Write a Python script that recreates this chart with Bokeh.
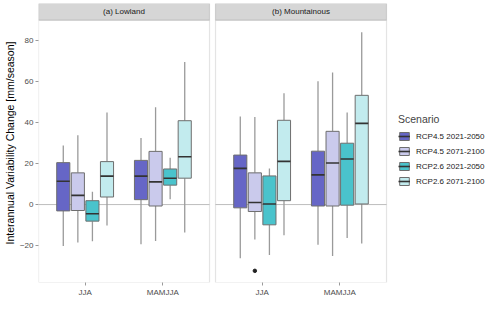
from bokeh.plotting import figure
from bokeh.models import Range1d, FixedTicker, BoxAnnotation, Legend, LegendItem, ColumnDataSource, Label
from bokeh.core.properties import value
from bokeh.embed import file_html
from bokeh.resources import INLINE

regions = ["(a) Lowland", "(b) Mountainous"]
seasons = ["JJA", "MAMJJA"]
scenarios = ["RCP4.5 2021-2050", "RCP4.5 2071-2100", "RCP2.6 2021-2050", "RCP2.6 2071-2100"]
colors = ["#6666C6", "#CACAEC", "#4AC3CC", "#C2EBEE"]

# order within each region: JJA x 4 scenarios, then MAMJJA x 4 scenarios
low_wlo = [-20.3, -18.6, -17.9, -10.2, -19.4, -17.8, 2.6, -13.7]
low_q1 = [-3.1, -2.9, -8.1, 3.7, 2.4, -0.7, 9.5, 12.9]
low_med = [11.4, 4.5, -4.5, 13.9, 13.9, 11.1, 12.9, 23.4]
low_q3 = [20.5, 15.5, 1.9, 21.0, 21.6, 26.0, 17.4, 41.0]
low_whi = [28.9, 33.9, 6.3, 45.0, 32.6, 47.6, 22.9, 69.7]

mtn_wlo = [-26.3, -17.1, -24.7, -15.0, -19.7, -25.2, -16.3, -19.0]
mtn_q1 = [-1.6, -3.4, -9.9, 1.9, -0.7, -0.7, -0.3, 0.3]
mtn_med = [17.7, 1.0, 0.3, 21.1, 14.5, 20.3, 22.3, 39.7]
mtn_q3 = [24.2, 15.5, 14.0, 41.2, 26.1, 35.8, 30.0, 53.4]
mtn_whi = [43.1, 42.8, 17.6, 54.4, 60.3, 64.6, 45.0, 84.3]

# outliers: (region index, season index, scenario index, value)
outliers = [(1, 0, 1, -32.4)]

y_ticks = [-20, 0, 20, 40, 60, 80]

FONT = "Liberation Sans"
Y_LO, Y_PANEL_TOP, Y_HI = -38.1, 90.2, 98.3
X_LO, X_HI = 0.4, 2.6

# layout in pixels
FRAME_W, FRAME_H = 454, 279
PANEL_PX, GAP_PX = 171, 6
UNIT = (X_HI - X_LO) / PANEL_PX
GAP = GAP_PX * UNIT
OFF = (X_HI - X_LO) + GAP
X_END = X_LO + FRAME_W * UNIT
DODGE = 0.1875
BOXW = 0.1875 * 0.9

p = figure(frame_width=FRAME_W, frame_height=FRAME_H,
           x_range=Range1d(X_LO, X_END), y_range=Range1d(Y_LO, Y_HI),
           output_backend="svg", toolbar_location=None,
           min_border_left=2, min_border_top=3, min_border_right=0, min_border_bottom=26)
p.outline_line_color = None
p.xgrid.visible = False
p.ygrid.visible = False
p.background_fill_color = "white"

# zero lines per panel
p.segment(x0=[X_LO, X_LO + OFF], x1=[X_HI, X_HI + OFF], y0=[0, 0], y1=[0, 0],
          line_color="#BDBDBD", line_width=1)

stats = [(low_wlo, low_q1, low_med, low_q3, low_whi), (mtn_wlo, mtn_q1, mtn_med, mtn_q3, mtn_whi)]

items = []
for j, scen in enumerate(scenarios):
    xs, wlo, q1, med, q3, whi = [], [], [], [], [], []
    for r, st in enumerate(stats):
        for s in range(len(seasons)):
            k = s * len(scenarios) + j
            xs.append(s + 1 + r * OFF + (j - 1.5) * DODGE)
            wlo.append(st[0][k]); q1.append(st[1][k]); med.append(st[2][k])
            q3.append(st[3][k]); whi.append(st[4][k])
    src = ColumnDataSource(dict(x=xs, wlo=wlo, q1=q1, med=med, q3=q3, whi=whi,
                                xl=[x - BOXW / 2 for x in xs], xr=[x + BOXW / 2 for x in xs]))
    p.segment(x0="x", x1="x", y0="wlo", y1="q1", source=src, line_color="#9A9A9A", line_width=1.3)
    p.segment(x0="x", x1="x", y0="q3", y1="whi", source=src, line_color="#9A9A9A", line_width=1.3)
    box = p.vbar(x="x", width=BOXW, bottom="q1", top="q3", source=src,
                 fill_color=colors[j], line_color="#6E6E6E", line_width=1)
    medr = p.segment(x0="xl", x1="xr", y0="med", y1="med", source=src,
                     line_color="#333333", line_width=1.6)
    items.append(LegendItem(label=scen, renderers=[box, medr]))

ox = [s + 1 + r * OFF + (j - 1.5) * DODGE for (r, s, j, v) in outliers]
oy = [v for (r, s, j, v) in outliers]
p.scatter(x=ox, y=oy, size=3.5, color="#222222")

# panel borders and strips
for r in range(len(regions)):
    p.add_layout(BoxAnnotation(left=X_LO + r * OFF, right=X_HI + r * OFF, bottom=Y_LO, top=Y_PANEL_TOP,
                               fill_color=None, line_color="#A6A6A6", line_width=1.2))
    p.add_layout(BoxAnnotation(left=X_LO + r * OFF, right=X_HI + r * OFF, bottom=Y_PANEL_TOP, top=Y_HI,
                               fill_color="#D6D6D6", fill_alpha=1, line_color="#8C8C8C", line_width=1.2))

p.text(x=[(X_LO + X_HI) / 2 + r * OFF for r in range(len(regions))],
       y=[(Y_PANEL_TOP + Y_HI) / 2] * len(regions), text=regions,
       text_align="center", text_baseline="middle", text_font=value(FONT),
       text_font_size="8px", text_color="#1A1A1A", level="overlay")

# axes
p.yaxis.ticker = FixedTicker(ticks=y_ticks)
p.yaxis.axis_label = "Interannual Variability Change [mm/season]"
p.xaxis.ticker = FixedTicker(ticks=[s + 1 + r * OFF for r in range(len(regions)) for s in range(len(seasons))])
p.xaxis.major_label_overrides = {s + 1 + r * OFF: seasons[s] for r in range(len(regions)) for s in range(len(seasons))}
for ax in (p.xaxis, p.yaxis):
    ax.axis_line_color = None
    ax.minor_tick_line_color = None
    ax.major_tick_line_color = "#9A9A9A"
    ax.major_tick_out = 3
    ax.major_tick_in = 0
    ax.major_label_text_font = FONT
    ax.major_label_text_font_size = "8px"
    ax.major_label_text_color = "#4D4D4D"
    ax.major_label_standoff = 2
    ax.axis_label_text_font = FONT
    ax.axis_label_text_font_size = "10.5px"
    ax.axis_label_text_font_style = "normal"
    ax.axis_label_text_color = "#000000"
    ax.axis_label_standoff = 1

p.add_layout(Label(x=(X_LO + X_HI + OFF) / 2, y=-19, y_units="screen", text="Season",
                   text_align="center", text_baseline="middle", text_font=FONT,
                   text_font_size="11px", text_color="#000000"))

legend = Legend(items=items, title="Scenario", location=(2 * PANEL_PX + GAP_PX + 12, 96),
                title_text_font=FONT, title_text_font_size="10.5px", title_text_font_style="normal",
                title_standoff=6,
                label_text_font=FONT, label_text_font_size="8px", label_text_color="#1A1A1A",
                glyph_width=12, glyph_height=10, label_height=10, spacing=5, padding=4, margin=0,
                label_standoff=6, border_line_color=None, background_fill_alpha=0)
p.add_layout(legend)

open("out.html", "w").write(file_html(p, INLINE))
